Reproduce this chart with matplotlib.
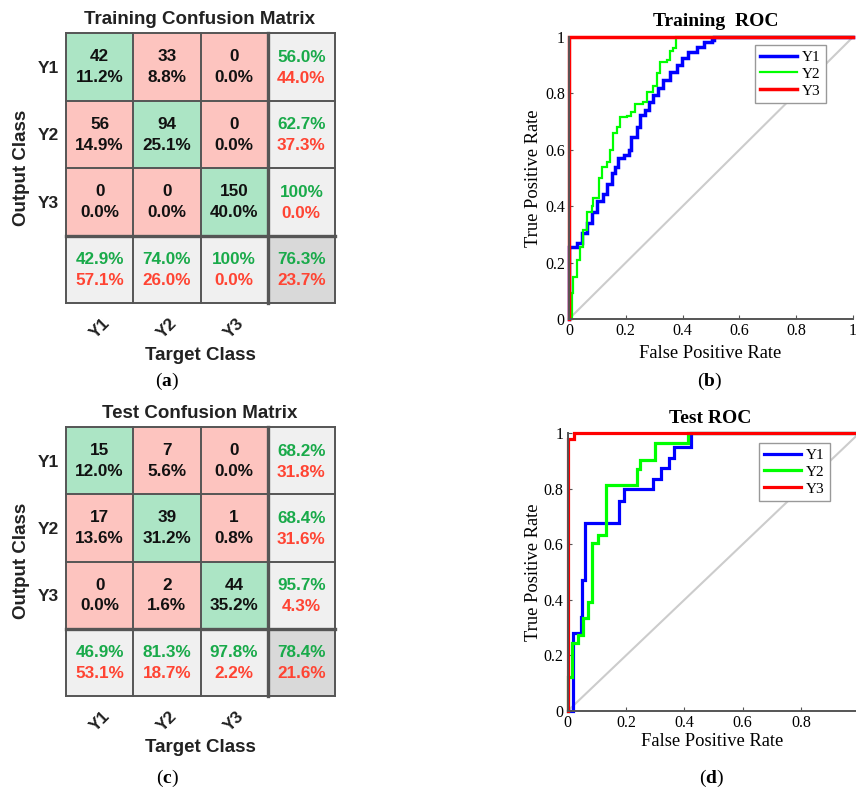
import numpy as np
import matplotlib
matplotlib.use("Agg")
import matplotlib.pyplot as plt
from matplotlib.patches import Rectangle

# ---------------------------------------------------------------- data
classes = ["Y1", "Y2", "Y3"]

train_counts = np.array([[42, 33, 0],
                         [56, 94, 0],
                         [0, 0, 150]])
test_counts = np.array([[15, 7, 0],
                        [17, 39, 1],
                        [0, 2, 44]])

# ROC curves (false positive rate, true positive rate) per class
train_fpr_y1 = [0, 0, 0.027, 0.045, 0.062, 0.080, 0.098, 0.121, 0.133, 0.151,
                0.163, 0.174, 0.192, 0.210, 0.220, 0.238, 0.250, 0.268, 0.280,
                0.297, 0.315, 0.332, 0.356, 0.380, 0.397, 0.420, 0.450, 0.474,
                0.503, 0.509, 1.0]
train_tpr_y1 = [0, 0.256, 0.268, 0.304, 0.339, 0.380, 0.420, 0.445, 0.480, 0.516,
                0.540, 0.570, 0.581, 0.600, 0.647, 0.682, 0.723, 0.741, 0.770,
                0.794, 0.818, 0.847, 0.876, 0.900, 0.925, 0.947, 0.965, 0.983,
                0.990, 1.0, 1.0]

train_fpr_y2 = [0, 0.009, 0.015, 0.027, 0.039, 0.050, 0.062, 0.080, 0.086, 0.104,
                0.116, 0.133, 0.145, 0.156, 0.168, 0.180, 0.203, 0.220, 0.232,
                0.262, 0.273, 0.297, 0.309, 0.320, 0.344, 0.356, 0.367, 0.377, 1.0]
train_tpr_y2 = [0, 0.091, 0.150, 0.210, 0.256, 0.316, 0.380, 0.400, 0.430, 0.500,
                0.540, 0.556, 0.600, 0.660, 0.680, 0.717, 0.720, 0.735, 0.762,
                0.770, 0.806, 0.825, 0.871, 0.912, 0.920, 0.950, 0.960, 1.0, 1.0]

train_fpr_y3 = [0, 0, 1.0]
train_tpr_y3 = [0, 1.0, 1.0]

test_fpr_y1 = [0, 0.017, 0.045, 0.050, 0.061, 0.176, 0.193, 0.293, 0.319,
               0.347, 0.366, 0.423, 1.0]
test_tpr_y1 = [0, 0.282, 0.339, 0.471, 0.677, 0.755, 0.797, 0.833, 0.875,
               0.911, 0.951, 1.0, 1.0]

test_fpr_y2 = [0, 0, 0.015, 0.037, 0.051, 0.071, 0.085, 0.105, 0.133, 0.236,
               0.248, 0.299, 0.414, 1.0]
test_tpr_y2 = [0, 0.123, 0.245, 0.273, 0.333, 0.393, 0.603, 0.633, 0.813,
               0.869, 0.903, 0.965, 1.0, 1.0]

test_fpr_y3 = [0, 0, 0.023, 1.0]
test_tpr_y3 = [0, 0.978, 1.0, 1.0]

roc_ticks = [0, 0.2, 0.4, 0.6, 0.8, 1.0]
roc_tick_labels = ["0", "0.2", "0.4", "0.6", "0.8", "1"]

# ---------------------------------------------------------------- style
W, H = 856, 794
SANS = "Liberation Sans"
SERIF = "Liberation Serif"
plt.rcParams["mathtext.fontset"] = "custom"
plt.rcParams["mathtext.rm"] = "Liberation Serif"
plt.rcParams["mathtext.bf"] = "Liberation Serif:bold"

GREEN_CELL = "#ace5c5"
RED_CELL = "#fdc4bf"
GRAY_CELL = "#f0f0f0"
CORNER_CELL = "#d9d9d9"
GREEN_TXT = "#19aa4a"
RED_TXT = "#ff4433"
GRID = "#555555"

fig = plt.figure(figsize=(W / 100, H / 100), dpi=100)


def px_rect(x0, y0, x1, y1):
    return [x0 / W, 1 - y1 / H, (x1 - x0) / W, (y1 - y0) / H]


def ftext(x, y, s, **kw):
    fig.text(x / W, 1 - y / H, s, ha="center", va="center", **kw)


def round1(v):
    """Percentage rounded half-up to one decimal."""
    return np.floor(v * 1000 + 0.5) / 10


def fmt(r):
    if r >= 100:
        return "100%"
    return f"{r:.1f}%"


def summary_pair(p):
    good = round1(p)
    return fmt(good), fmt(round(100 - good, 1))


def draw_confusion(rect, counts, title, title_y, xlabel_y, ylabel_xy):
    ax = fig.add_axes(rect)
    n = len(classes)
    total = counts.sum()
    tkw = dict(ha="center", va="center", family=SANS, weight="bold", fontsize=12.3)
    for i in range(n):
        for j in range(n):
            fc = GREEN_CELL if i == j else RED_CELL
            ax.add_patch(Rectangle((j, i), 1, 1, facecolor=fc, edgecolor="none"))
            ax.text(j + 0.5, i + 0.35, str(counts[i, j]), color="#111111", **tkw)
            ax.text(j + 0.5, i + 0.66, fmt(round1(counts[i, j] / total)),
                    color="#111111", **tkw)
    # per-row (output class) summary
    for i in range(n):
        g, b = summary_pair(counts[i, i] / counts[i, :].sum())
        ax.add_patch(Rectangle((n, i), 1, 1, facecolor=GRAY_CELL, edgecolor="none"))
        ax.text(n + 0.5, i + 0.36, g, color=GREEN_TXT, **tkw)
        ax.text(n + 0.5, i + 0.67, b, color=RED_TXT, **tkw)
    # per-column (target class) summary
    for j in range(n):
        g, b = summary_pair(counts[j, j] / counts[:, j].sum())
        ax.add_patch(Rectangle((j, n), 1, 1, facecolor=GRAY_CELL, edgecolor="none"))
        ax.text(j + 0.5, n + 0.36, g, color=GREEN_TXT, **tkw)
        ax.text(j + 0.5, n + 0.67, b, color=RED_TXT, **tkw)
    g, b = summary_pair(np.trace(counts) / total)
    ax.add_patch(Rectangle((n, n), 1, 1, facecolor=CORNER_CELL, edgecolor="none"))
    ax.text(n + 0.5, n + 0.36, g, color=GREEN_TXT, **tkw)
    ax.text(n + 0.5, n + 0.67, b, color=RED_TXT, **tkw)

    for k in range(n + 2):
        lw = 2.4 if k == n else 1.4
        ax.plot([k, k], [0, n + 1], color=GRID, lw=lw, clip_on=False,
                solid_capstyle="projecting")
        ax.plot([0, n + 1], [k, k], color=GRID, lw=lw, clip_on=False,
                solid_capstyle="projecting")

    ax.set_xlim(0, n + 1)
    ax.set_ylim(n + 1, 0)
    for s in ax.spines.values():
        s.set_visible(False)
    ax.set_xticks(np.arange(n) + 0.5)
    ax.set_xticklabels(classes, rotation=45, family=SANS, weight="bold",
                       fontsize=12.5, color="#222222")
    ax.set_yticks(np.arange(n) + 0.5)
    ax.set_yticklabels(classes, family=SANS, weight="bold", fontsize=12.5,
                       color="#222222")
    ax.tick_params(axis="x", length=0, pad=9)
    ax.tick_params(axis="y", length=0, pad=5)

    ftext(200, title_y, title, family=SANS, weight="bold", fontsize=13.5,
          color="#222222")
    ftext(200, xlabel_y, "Target Class", family=SANS, weight="bold",
          fontsize=13.5, color="#222222")
    ftext(ylabel_xy[0], ylabel_xy[1], "Output Class", family=SANS,
          weight="bold", fontsize=13.5, color="#222222", rotation=90)


def draw_roc(rect, curves, widths, xticks, title, title_xy, xlabel_xy,
             ylabel_xy, legend_xy):
    ax = fig.add_axes(rect)
    ax.plot([0, 1], [0, 1], color="#cccccc", lw=1.5, zorder=1)
    handles = []
    for (fpr, tpr, color, name), lw in zip(curves, widths):
        h, = ax.plot(fpr, tpr, color=color, lw=lw, drawstyle="steps-post",
                     clip_on=False, label=name, zorder=2,
                     solid_joinstyle="miter")
        handles.append(h)
    ax.set_xlim(0, 1)
    ax.set_ylim(0, 1)
    for side in ("top", "right"):
        ax.spines[side].set_visible(False)
    for side in ("left", "bottom"):
        ax.spines[side].set_color("#555555")
        ax.spines[side].set_linewidth(1.4)
    ax.set_xticks(xticks)
    ax.set_xticklabels([roc_tick_labels[roc_ticks.index(t)] for t in xticks],
                       family=SERIF, fontsize=11.5)
    ax.set_yticks(roc_ticks)
    ax.set_yticklabels(roc_tick_labels, family=SERIF, fontsize=11.5)
    ax.tick_params(direction="in", length=3, width=0.8, color="#555555")
    ax.tick_params(axis="x", pad=3)
    ax.tick_params(axis="y", pad=3)

    leg = ax.legend(handles=handles, loc="upper left",
                    bbox_to_anchor=(legend_xy[0] / W, 1 - legend_xy[1] / H),
                    bbox_transform=fig.transFigure, frameon=True,
                    fancybox=False, framealpha=1, edgecolor="#999999",
                    prop={"family": SERIF, "size": 11}, handlelength=2.4,
                    handletextpad=0.3, borderpad=0.35, labelspacing=0.2,
                    borderaxespad=0)
    leg.get_frame().set_linewidth(1.0)
    leg.set_zorder(5)

    ftext(title_xy[0], title_xy[1], title, family=SERIF, weight="bold",
          fontsize=14)
    ftext(xlabel_xy[0], xlabel_xy[1], "False Positive Rate", family=SERIF,
          fontsize=13.3)
    ftext(ylabel_xy[0], ylabel_xy[1], "True Positive Rate", family=SERIF,
          fontsize=13.3, rotation=90)


# ---------------------------------------------------------------- panels
draw_confusion(px_rect(66, 33, 335, 303), train_counts,
               "Training Confusion Matrix", 19, 355, (22, 168))
draw_confusion(px_rect(66, 427, 335, 696), test_counts,
               "Test Confusion Matrix", 413, 748, (22, 561))

draw_roc(px_rect(569, 37, 853, 319),
         [(train_fpr_y1, train_tpr_y1, "#0000ff", "Y1"),
          (train_fpr_y2, train_tpr_y2, "#00ff00", "Y2"),
          (train_fpr_y3, train_tpr_y3, "#ff0000", "Y3")],
         [2.5, 1.6, 2.5], roc_ticks, "Training  ROC", (716, 21),
         (710, 353), (533, 178), (755, 45))

draw_roc(px_rect(567.7, 433, 859.4, 711),
         [(test_fpr_y1, test_tpr_y1, "#0000ff", "Y1"),
          (test_fpr_y2, test_tpr_y2, "#00ff00", "Y2"),
          (test_fpr_y3, test_tpr_y3, "#ff0000", "Y3")],
         [2.3, 2.3, 2.3], roc_ticks[:-1], "Test ROC", (710, 418),
         (712, 742), (533, 572), (759, 443))

# panel letters
for x, y, letter in [(167, 381, "a"), (710, 381, "b"),
                     (167, 778, "c"), (712, 778, "d")]:
    ftext(x, y, r"$\mathrm{(}\mathbf{" + letter + r"}\mathrm{)}$",
          fontsize=14)

fig.savefig("out.png", dpi=100)
